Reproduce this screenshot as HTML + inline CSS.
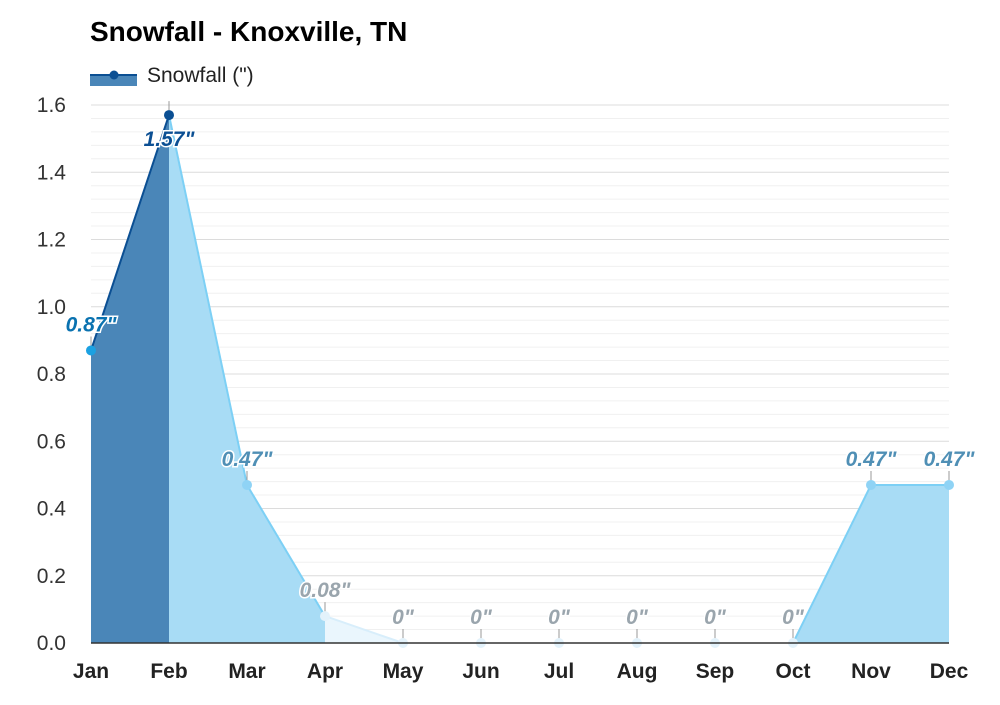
<!DOCTYPE html>
<html><head><meta charset="utf-8"><style>
body{margin:0;background:#fff;font-family:"Liberation Sans",Arial,sans-serif}
svg text{font-family:"Liberation Sans",Arial,sans-serif}
</style></head><body>
<svg id="c" width="1000" height="700" viewBox="0 0 1000 700">
<text x="90" y="41" font-size="28" font-weight="bold" fill="#000">Snowfall - Knoxville, TN</text>
<g>
<rect x="90" y="75" width="47" height="11" fill="#4a86b8"/>
<line x1="90" y1="75" x2="137" y2="75" stroke="#0b4f93" stroke-width="2"/>
<circle cx="114" cy="75" r="4.5" fill="#0b4f93"/>
<text x="147" y="82" font-size="21" fill="#222">Snowfall (")</text>
</g>
<g id="grid"></g><g id="areas"></g><g id="marks"></g><g id="axes"></g>
</svg>
<script>
const months=["Jan","Feb","Mar","Apr","May","Jun","Jul","Aug","Sep","Oct","Nov","Dec"];
const snowfall=[0.87,1.57,0.47,0.08,0,0,0,0,0,0,0.47,0.47];
const valueLabels=['0.87"','1.57"','0.47"','0.08"','0"','0"','0"','0"','0"','0"','0.47"','0.47"'];
const yTicks=["0.0","0.2","0.4","0.6","0.8","1.0","1.2","1.4","1.6"];
const NS="http://www.w3.org/2000/svg";
const x=i=>91+i*78, y=v=>643-v*(538/1.6);
function mk(t,a,p){const e=document.createElementNS(NS,t);for(const k in a)e.setAttribute(k,a[k]);p.appendChild(e);return e;}
const segPalette={dark:["#4a86b8","#0b4f93"],light:["#a8dcf5","#7dd0f5"],vlight:["#eaf6fd","#d8eefb"],xlight:["#f4fafe","#e6f4fc"]};
function segKind(i){const a=snowfall[i],b=snowfall[i+1];
 if(i>0&&a>snowfall[i-1]&&a>b) return "light";
 if(a>=0.7) return "dark"; if(a>=0.3||b>=0.3) return "light"; if(a>=0.05) return "vlight"; return "xlight";}
function ptColor(v){ if(v>=1.2)return"#0b4f93"; if(v>=0.7)return"#1ba1e2"; if(v>=0.3)return"#8fd3f5"; return"#e3f2fb";}
function lblColor(v){ if(v>=1.2)return"#0b4f93"; if(v>=0.7)return"#0a72b0"; if(v>=0.3)return"#4f8fb5"; return"#9aa5ad";}
const G=document.getElementById("grid"),A=document.getElementById("areas"),M=document.getElementById("marks"),X=document.getElementById("axes");
for(let k=0;k<=40;k++){const v=k*0.04;const l=mk("line",{x1:91,x2:949,y1:y(v),y2:y(v),stroke:k%5==0?"#dcdcdc":"#f0f0f0","stroke-width":1},G);

}
yTicks.forEach(t=>{const e=mk("text",{x:66,y:y(parseFloat(t))+7,"font-size":21,fill:"#333","text-anchor":"end"},X);e.textContent=t;

});
for(let i=0;i<11;i++){const a=snowfall[i],b=snowfall[i+1];
if(a===0&&b===0)continue;
const [f,s]=segPalette[segKind(i)];
const p=mk("polygon",{points:`${x(i)},${y(0)} ${x(i)},${y(a)} ${x(i+1)},${y(b)} ${x(i+1)},${y(0)}`,fill:f},A);


const l=mk("line",{x1:x(i),y1:y(a),x2:x(i+1),y2:y(b),stroke:s,"stroke-width":2},A);

}
mk("line",{x1:91,x2:949,y1:643,y2:643,stroke:"#333","stroke-width":1.5},X);
months.forEach((m,i)=>{const v=snowfall[i];
const t=mk("line",{x1:x(i),x2:x(i),y1:y(v)-4,y2:y(v)-14,stroke:"#999","stroke-width":1},M);


const c=mk("circle",{cx:x(i),cy:y(v),r:5,fill:ptColor(v)},M);


const ly=i==1?y(v)+31:y(v)-19;
const lt=mk("text",{x:x(i),y:ly,"font-size":21,"font-weight":"bold","font-style":"italic",fill:lblColor(v),"text-anchor":"middle",stroke:"#fff","stroke-width":3,"paint-order":"stroke"},M);
lt.textContent=valueLabels[i];


const xl=mk("text",{x:x(i),y:678,"font-size":21,"font-weight":"bold",fill:"#222","text-anchor":"middle"},X);
xl.textContent=m;

});
</script>
</body></html>
